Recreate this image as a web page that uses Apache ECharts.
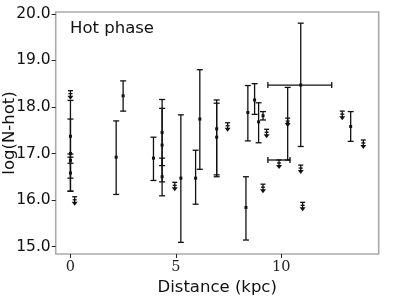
<!DOCTYPE html>
<html>
<head>
<meta charset="utf-8">
<script src="https://cdn.jsdelivr.net/npm/echarts@6/dist/echarts.min.js"></script>
<style>html,body{margin:0;padding:0;background:#fff}#c{width:399px;height:299px}</style>
</head>
<body>
<div id="c"></div>
<script>
// Detections: distance, log N, lower bound, upper bound, x lower, x upper (null = no x error)
const detX   = [0, 0, 0, 0, 2.17, 2.50, 3.94, 4.35, 4.35, 4.35, 5.24, 5.94, 6.14, 6.94, 6.94, 8.33, 8.42, 8.74, 8.93, 9.14, 10.31, 10.93, 13.30];
const detY   = [17.37, 17.00, 16.58, 16.85, 16.92, 18.24, 16.90, 17.45, 17.18, 16.50, 16.47, 16.47, 17.74, 17.35, 17.53, 15.84, 17.88, 18.15, 17.68, 17.81, 17.64, 18.47, 17.58];
const detLo  = [16.47, 16.19, 16.19, 16.79, 16.12, 17.91, 16.42, 16.74, 16.39, 16.09, 15.09, 15.91, 16.66, 16.54, 16.50, 15.14, 17.27, 17.84, 17.23, 17.72, 16.86, 17.15, 17.26];
const detHi  = [18.14, 17.74, 16.99, 16.92, 17.70, 18.56, 17.35, 18.16, 17.97, 16.90, 17.83, 17.07, 18.80, 18.15, 18.08, 16.50, 18.46, 18.50, 18.09, 17.90, 18.42, 19.80, 17.90];
const detXLo = [null, null, null, null, null, null, null, null, null, null, null, null, null, null, null, null, null, null, null, null, null, 9.37, null];
const detXHi = [null, null, null, null, null, null, null, null, null, null, null, null, null, null, null, null, null, null, null, null, null, 12.40, null];
// Upper limits
const limX   = [0, 0.2, 4.95, 7.46, 9.31, 9.14, 9.90, 10.31, 10.93, 11.02, 12.90, 13.90];
const limY   = [18.35, 16.07, 16.38, 17.66, 17.52, 16.34, 16.86, 17.76, 16.75, 15.95, 17.91, 17.29];
const limXLo = [null, null, null, null, null, null, 9.37, null, null, null, null, null];
const limXHi = [null, null, null, null, null, null, 10.42, null, null, null, null, null];
// Ticks
const xTicks = [0, 5, 10];
const yTicks = [15, 16, 17, 18, 19, 20];

const det = detX.map((x, i) => [x, detY[i], detLo[i], detHi[i], detXLo[i] == null ? NaN : detXLo[i], detXHi[i] == null ? NaN : detXHi[i]]);
const lim = limX.map((x, i) => [x, limY[i], limXLo[i] == null ? NaN : limXLo[i], limXHi[i] == null ? NaN : limXHi[i]]);

const LC = '#111';
const LW = 1.3;
function seg(x1, y1, x2, y2) {
  return {type: 'line', shape: {x1, y1, x2, y2}, style: {stroke: LC, lineWidth: LW}};
}

const chart = echarts.init(document.getElementById('c'), null, {renderer: 'canvas'});
chart.setOption({
  animation: false,
  grid: {left: 55.7, right: 20.3, top: 12, bottom: 45, containLabel: false, outerBoundsMode: 'none',
    show: true, borderColor: '#aaaaaa', borderWidth: 1.6, backgroundColor: 'transparent'},
  title: {text: 'Hot phase', left: 65, top: 15, textStyle: {fontFamily: 'DejaVu Sans', fontSize: 16.5, fontWeight: 'normal', color: '#111'}},
  xAxis: {
    type: 'value', min: -0.7, max: 14.63,
    name: 'Distance (kpc)', nameLocation: 'middle', nameGap: 25, nameMoveOverlap: false,
    nameTextStyle: {fontFamily: 'DejaVu Sans', fontSize: 16.5, color: '#111'},
    axisLine: {show: false, onZero: false}, splitLine: {show: false},
    axisTick: {show: true, customValues: xTicks, length: 4, lineStyle: {color: '#222', width: 1}},
    axisLabel: {customValues: xTicks, fontFamily: 'DejaVu Serif', fontSize: 14.5, color: '#222', margin: 6}
  },
  yAxis: {
    type: 'value', min: 14.84, max: 20.04,
    name: 'log(N-hot)', nameLocation: 'middle', nameGap: 37, nameMoveOverlap: false,
    nameTextStyle: {fontFamily: 'DejaVu Sans', fontSize: 16.5, color: '#111'},
    axisLine: {show: false, onZero: false}, splitLine: {show: false},
    axisTick: {show: true, customValues: yTicks, length: 4, lineStyle: {color: '#222', width: 1}},
    axisLabel: {customValues: yTicks, fontFamily: 'DejaVu Sans', fontSize: 15.5, color: '#111', margin: 5,
      formatter: v => v.toFixed(1)}
  },
  series: [
    {
      type: 'custom', data: det, clip: true,
      renderItem: function (params, api) {
        const x = api.value(0), y = api.value(1), lo = api.value(2), hi = api.value(3), xl = api.value(4), xh = api.value(5);
        const c = api.coord([x, y]);
        const pl = api.coord([x, lo]), ph = api.coord([x, hi]);
        const cw = 3;
        const ch = [
          seg(c[0], pl[1], c[0], ph[1]),
          seg(c[0] - cw, pl[1], c[0] + cw, pl[1]),
          seg(c[0] - cw, ph[1], c[0] + cw, ph[1]),
          {type: 'rect', shape: {x: c[0] - 1.5, y: c[1] - 1.5, width: 3, height: 3}, style: {fill: LC}}
        ];
        if (!isNaN(xl)) {
          const a = api.coord([xl, y]), b = api.coord([xh, y]);
          ch.push(seg(a[0], c[1], b[0], c[1]));
          ch.push(seg(a[0], c[1] - cw, a[0], c[1] + cw));
          ch.push(seg(b[0], c[1] - cw, b[0], c[1] + cw));
        }
        return {type: 'group', children: ch};
      }
    },
    {
      type: 'custom', data: lim, clip: true,
      renderItem: function (params, api) {
        const x = api.value(0), y = api.value(1), xl = api.value(2), xh = api.value(3);
        const c = api.coord([x, y]);
        const L = 9, cw = 2.5;
        const ch = [
          seg(c[0], c[1], c[0], c[1] + L - 3),
          seg(c[0] - cw, c[1], c[0] + cw, c[1]),
          seg(c[0] - 2, c[1] + 3, c[0] + 2, c[1] + 3),
          {type: 'polygon', shape: {points: [[c[0] - 3, c[1] + L - 4], [c[0] + 3, c[1] + L - 4], [c[0], c[1] + L]]}, style: {fill: LC}}
        ];
        if (!isNaN(xl)) {
          const a = api.coord([xl, y]), b = api.coord([xh, y]);
          ch.push(seg(a[0], c[1], b[0], c[1]));
          ch.push(seg(a[0], c[1] - 3, a[0], c[1] + 3));
          ch.push(seg(b[0], c[1] - 3, b[0], c[1] + 3));
        }
        return {type: 'group', children: ch};
      }
    }
  ]
});
</script>
</body>
</html>
